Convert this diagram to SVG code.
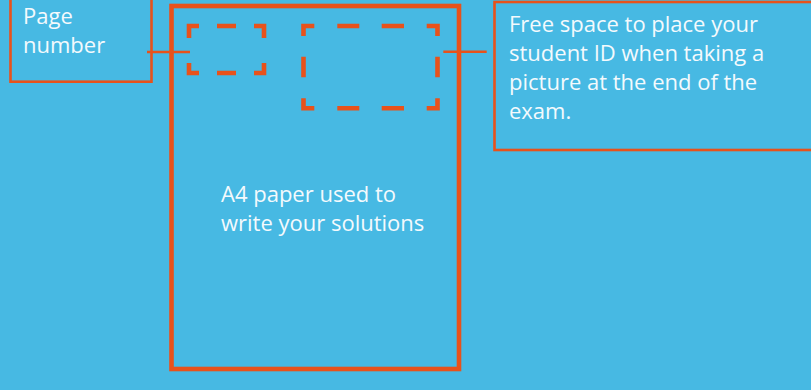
<svg xmlns="http://www.w3.org/2000/svg" width="811" height="390" viewBox="0 0 811 390">
  <style>
    .box { fill: none; stroke: #e8521b; stroke-width: 2.6; }
    .paper { fill: none; stroke: #e8521b; stroke-width: 4.6; }
    .dash { fill: none; stroke: #e8521b; stroke-width: 4.6; stroke-linecap: butt; stroke-linejoin: miter; }
    .conn { fill: none; stroke: #e8521b; stroke-width: 2.6; }
    .lbl { font-family: "Open Sans", "Liberation Sans", sans-serif; font-size: 22px; fill: #f4fafd; }
  </style>
  <rect x="0" y="0" width="811" height="390" fill="#47b9e3"/>

  <g id="paper">
    <rect class="paper" x="171.5" y="6" width="287.5" height="363"/>
    <text class="lbl" x="221" y="202.3">A4 paper used to</text>
    <text class="lbl" x="221" y="231">write your solutions</text>
  </g>

  <g id="page-number-area">
    <path class="dash" d="M189,38 V26 H199 M217,26 H236 M254,26 H264 V38 M264,63 V73 H254 M236,73 H217 M199,73 H189 V63"/>
  </g>

  <g id="id-area">
    <path class="dash" d="M303.5,36 V26 H314.3 M337.3,26 H359.3 M381.7,26 H404 M426.7,26 H437.5 V36 M437.5,56.7 V77.3 M437.5,98.3 V108.3 H426.7 M404,108.3 H381.7 M359.3,108.3 H337.3 M314.3,108.3 H303.5 V98.3 M303.5,77.3 V56.7"/>
  </g>

  <g id="page-number-label">
    <rect class="box" x="10.5" y="-10" width="141" height="91.7"/>
    <text class="lbl" x="23" y="24">Page</text>
    <text class="lbl" x="23" y="53">number</text>
  </g>

  <g id="student-id-label">
    <rect class="box" x="494.5" y="2" width="330" height="148"/>
    <text class="lbl" x="509" y="32.3">Free space to place your</text>
    <text class="lbl" x="509" y="61.1">student ID when taking a</text>
    <text class="lbl" x="509" y="89.9">picture at the end of the</text>
    <text class="lbl" x="509" y="118.7">exam.</text>
  </g>

  <g id="connectors">
    <line class="conn" x1="147" y1="52" x2="190" y2="52"/>
    <line class="conn" x1="443.3" y1="51.7" x2="486.7" y2="51.7"/>
  </g>
</svg>
